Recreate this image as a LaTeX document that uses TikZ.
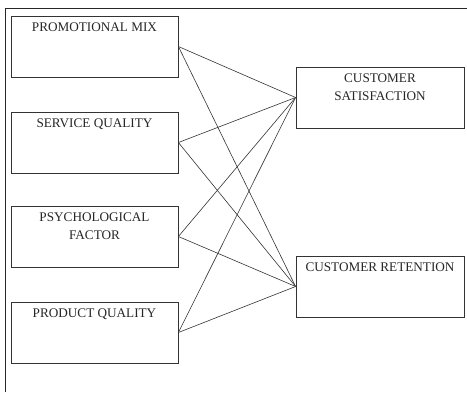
\documentclass[tikz,border=0pt]{standalone}
\usepackage{fontspec}
\setmainfont{Liberation Serif}

\begin{document}
\begin{tikzpicture}[x=1pt,y=-1pt,
   box/.style={draw=black!80,line width=.8pt,minimum width=167pt,minimum height=61pt,inner sep=0pt},
   lbl/.style={anchor=north,align=center,inner sep=0pt,yshift=-7pt,
      font=\fontsize{13.2}{18}\selectfont,text=black!85}]
   \useasboundingbox (0,0) rectangle (467,392);
   \draw[black!85,line width=.8pt] (5.5,392) -- (5.5,8) -- (467,8);

   \node[box,label={[lbl]north:PROMOTIONAL MIX}] (pm) at (94.5,46.5) {};
   \node[box,label={[lbl]north:SERVICE QUALITY}] (sq) at (94.5,142.5) {};
   \node[box,label={[lbl]north:PSYCHOLOGICAL\\FACTOR}] (pf) at (94.5,236.5) {};
   \node[box,label={[lbl]north:PRODUCT QUALITY}] (pq) at (94.5,332.5) {};
   \node[box,minimum width=168pt,label={[lbl]north:CUSTOMER\\SATISFACTION}] (cs) at (380,97.5) {};
   \node[box,minimum width=168pt,label={[lbl]north:CUSTOMER RETENTION}] (cr) at (380,286.5) {};

   \path[black!80,line width=.6pt] (pm.east) edge (cs.west);
   \path[black!80,line width=.6pt] (pm.east) edge (cr.west);
   \path[black!80,line width=.6pt] (sq.east) edge (cs.west);
   \path[black!80,line width=.6pt] (sq.east) edge (cr.west);
   \path[black!80,line width=.6pt] (pf.east) edge (cs.west);
   \path[black!80,line width=.6pt] (pf.east) edge (cr.west);
   \path[black!80,line width=.6pt] (pq.east) edge (cs.west);
   \path[black!80,line width=.6pt] (pq.east) edge (cr.west);
\end{tikzpicture}
\end{document}
